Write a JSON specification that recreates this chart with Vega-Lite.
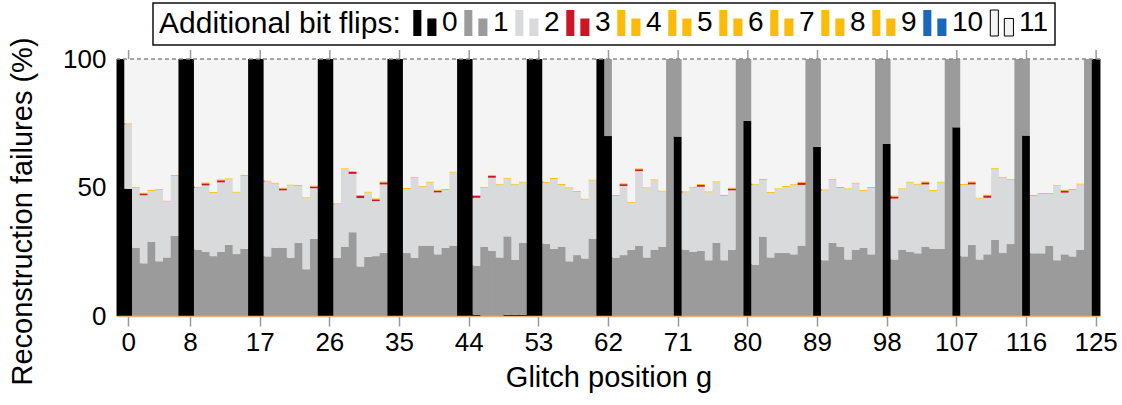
{
  "$schema": "https://vega.github.io/schema/vega-lite/v6.json",
  "width": 983,
  "height": 257,
  "autosize": "none",
  "padding": {"left": 117, "top": 59, "right": 22, "bottom": 89},
  "background": "white",
  "config": {"view": {"stroke": null}, "font": "Liberation Sans"},
  "data": {"values": [
    {"pos":-1,"a":100},
    {"pos":0,"a":49.5,"c":25.1,"e":0.4,"l":25},
    {"pos":1,"b":26.5,"c":23.4,"e":0.4,"l":49.7},
    {"pos":2,"b":20.5,"c":26.5,"d":0.7,"e":0.4,"l":51.9},
    {"pos":3,"b":28.9,"c":19.7,"e":0.4,"l":51.0},
    {"pos":4,"b":21.3,"c":27.8,"e":0.4,"l":50.5},
    {"pos":5,"b":22.8,"c":21.7,"e":0.4,"l":55.1},
    {"pos":6,"b":31.2,"c":23.3,"e":0.4,"l":45.1},
    {"pos":7,"a":100},
    {"pos":8,"a":100},
    {"pos":9,"b":25.8,"c":24.1,"e":0.4,"l":49.7},
    {"pos":10,"b":25.0,"c":25.8,"d":0.8,"e":0.4,"l":48.0},
    {"pos":11,"b":23.3,"c":24.6,"e":0.4,"l":51.7},
    {"pos":12,"b":24.9,"c":27.1,"d":0.8,"e":0.4,"l":46.8},
    {"pos":13,"b":27.7,"c":25.5,"e":0.4,"l":46.4},
    {"pos":14,"b":24.1,"c":23.9,"e":0.4,"l":51.6},
    {"pos":15,"b":26.2,"c":28.3,"e":0.4,"l":45.1},
    {"pos":16,"a":100},
    {"pos":17,"a":100},
    {"pos":18,"b":23.2,"c":29.1,"e":0.4,"l":47.3},
    {"pos":19,"b":26.6,"c":24.9,"e":0.4,"l":48.1},
    {"pos":20,"b":26.6,"c":22.3,"d":0.7,"e":0.4,"l":50.0},
    {"pos":21,"b":22.7,"c":28.1,"e":0.4,"l":48.8},
    {"pos":22,"b":28.5,"c":22.1,"e":0.4,"l":49.0},
    {"pos":23,"b":18.2,"c":27.6,"e":0.4,"l":53.8},
    {"pos":24,"b":30.0,"c":19.7,"d":0.7,"e":0.4,"l":49.2},
    {"pos":25,"a":100},
    {"pos":26,"a":100},
    {"pos":27,"b":22.6,"c":20.9,"e":0.4,"l":56.1},
    {"pos":28,"b":27.0,"c":30.1,"e":0.4,"l":42.5},
    {"pos":29,"b":32.6,"c":22.7,"d":0.8,"e":0.4,"l":43.5},
    {"pos":30,"b":19.3,"c":26.6,"d":0.8,"e":0.4,"l":52.9},
    {"pos":31,"b":23.0,"c":25.0,"e":0.4,"l":51.6},
    {"pos":32,"b":23.3,"c":21.4,"d":0.7,"e":0.4,"l":54.2},
    {"pos":33,"b":24.5,"c":26.7,"d":0.8,"e":0.4,"l":47.6},
    {"pos":34,"a":100},
    {"pos":35,"a":100},
    {"pos":36,"b":24.5,"c":24.9,"e":0.4,"l":50.2},
    {"pos":37,"b":22.6,"c":31.2,"e":0.4,"l":45.8},
    {"pos":38,"b":27.4,"c":22.9,"e":0.4,"l":49.3},
    {"pos":39,"b":27.4,"c":24.5,"e":0.4,"l":47.7},
    {"pos":40,"b":24.0,"c":24.1,"d":0.7,"e":0.4,"l":50.8},
    {"pos":41,"b":26.5,"c":22.5,"e":0.4,"l":50.6},
    {"pos":42,"b":27.4,"c":28.4,"e":0.4,"l":43.8},
    {"pos":43,"a":100},
    {"pos":44,"a":100},
    {"pos":45,"a":0.5,"b":19.1,"c":26.4,"d":0.7,"e":0.4,"l":52.9},
    {"pos":46,"b":27.0,"c":22.9,"e":0.4,"l":49.7},
    {"pos":47,"b":25.4,"c":28.4,"d":0.7,"e":0.4,"l":45.1},
    {"pos":48,"b":22.8,"c":28.3,"e":0.4,"l":48.5},
    {"pos":49,"a":0.5,"b":30.5,"c":22.4,"e":0.4,"l":46.2},
    {"pos":50,"a":0.5,"b":21.3,"c":29.3,"e":0.4,"l":48.5},
    {"pos":51,"a":0.5,"b":28.0,"c":23.4,"e":0.4,"l":47.7},
    {"pos":52,"a":100},
    {"pos":53,"a":100},
    {"pos":54,"b":28.1,"c":23.7,"e":0.4,"l":47.8},
    {"pos":55,"b":26.1,"c":27.2,"e":0.4,"l":46.3},
    {"pos":56,"b":27.0,"c":24.0,"e":0.4,"l":48.6},
    {"pos":57,"b":21.3,"c":28.4,"e":0.4,"l":49.9},
    {"pos":58,"b":23.7,"c":24.5,"e":0.4,"l":51.4},
    {"pos":59,"b":22.4,"c":22.9,"e":0.4,"l":54.3},
    {"pos":60,"b":30.1,"c":22.6,"e":0.4,"l":46.9},
    {"pos":61,"a":100},
    {"pos":62,"a":70,"b":30},
    {"pos":63,"b":22.7,"c":24.0,"e":0.4,"l":52.9},
    {"pos":64,"b":23.7,"c":26.9,"d":0.7,"e":0.4,"l":48.3},
    {"pos":65,"b":25.8,"c":18.3,"e":0.4,"l":55.5},
    {"pos":66,"b":27.4,"c":29.0,"d":0.7,"e":0.4,"l":42.5},
    {"pos":67,"b":22.8,"c":26.9,"e":0.4,"l":49.9},
    {"pos":68,"b":25.7,"c":27.1,"e":0.4,"l":46.8},
    {"pos":69,"b":27.0,"c":21.4,"e":0.4,"l":51.2},
    {"pos":70,"b":100},
    {"pos":71,"a":69.8,"b":30.2},
    {"pos":72,"b":25.8,"c":22.3,"e":0.4,"l":51.5},
    {"pos":73,"b":24.9,"c":25.0,"e":0.4,"l":49.7},
    {"pos":74,"b":25.4,"c":24.9,"d":0.7,"e":0.4,"l":48.6},
    {"pos":75,"b":21.7,"c":26.4,"e":0.4,"l":51.5},
    {"pos":76,"b":28.5,"c":23.5,"e":0.4,"l":47.6},
    {"pos":77,"b":21.7,"c":25.0,"e":0.4,"l":52.9},
    {"pos":78,"b":25.8,"c":23.1,"d":0.7,"e":0.4,"l":50.0},
    {"pos":79,"b":100},
    {"pos":80,"a":75.9,"b":24.1},
    {"pos":81,"b":20.0,"c":31.1,"e":0.4,"l":48.5},
    {"pos":82,"b":30.9,"c":22.0,"e":0.4,"l":46.7},
    {"pos":83,"b":22.8,"c":25.1,"e":0.4,"l":51.7},
    {"pos":84,"b":24.5,"c":24.8,"e":0.4,"l":50.3},
    {"pos":85,"b":24.5,"c":25.7,"e":0.4,"l":49.4},
    {"pos":86,"b":24.0,"c":27.1,"e":0.4,"l":48.5},
    {"pos":87,"b":27.4,"c":23.6,"d":0.9,"e":0.4,"l":47.7},
    {"pos":88,"b":100},
    {"pos":89,"a":65.9,"b":34.1},
    {"pos":90,"b":21.7,"c":27.2,"e":0.4,"l":50.7},
    {"pos":91,"b":28.5,"c":24.5,"e":0.4,"l":46.6},
    {"pos":92,"b":27.0,"c":22.8,"e":0.4,"l":49.8},
    {"pos":93,"b":22.0,"c":27.3,"e":0.4,"l":50.3},
    {"pos":94,"b":25.8,"c":25.7,"e":0.4,"l":48.1},
    {"pos":95,"b":26.5,"c":22.1,"e":0.4,"l":51.0},
    {"pos":96,"b":24.0,"c":25.8,"e":0.4,"l":49.8},
    {"pos":97,"b":100},
    {"pos":98,"a":66.9,"b":33.1},
    {"pos":99,"b":22.0,"c":23.7,"d":0.8,"e":0.4,"l":53.1},
    {"pos":100,"b":25.7,"c":23.6,"e":0.4,"l":50.3},
    {"pos":101,"b":24.9,"c":27.0,"e":0.4,"l":47.7},
    {"pos":102,"b":24.4,"c":26.7,"e":0.4,"l":48.5},
    {"pos":103,"b":27.0,"c":24.2,"d":0.8,"e":0.4,"l":47.6},
    {"pos":104,"b":26.2,"c":22.4,"e":0.4,"l":51.0},
    {"pos":105,"b":26.2,"c":25.7,"e":0.4,"l":47.7},
    {"pos":106,"b":100},
    {"pos":107,"a":73.4,"b":26.6},
    {"pos":108,"b":23.2,"c":27.8,"e":0.4,"l":48.6},
    {"pos":109,"b":27.7,"c":23.5,"d":0.8,"e":0.4,"l":47.6},
    {"pos":110,"b":22.0,"c":23.7,"e":0.4,"l":53.9},
    {"pos":111,"b":24.0,"c":22.0,"d":0.9,"e":0.4,"l":52.7},
    {"pos":112,"b":29.7,"c":27.6,"e":0.4,"l":42.3},
    {"pos":113,"b":24.5,"c":29.3,"e":0.4,"l":45.8},
    {"pos":114,"b":28.0,"c":25.0,"e":0.4,"l":46.6},
    {"pos":115,"b":100},
    {"pos":116,"a":70.2,"b":29.8},
    {"pos":117,"b":24.4,"c":22.3,"e":0.4,"l":52.9},
    {"pos":118,"b":24.4,"c":23.1,"e":0.4,"l":52.1},
    {"pos":119,"b":27.4,"c":20.1,"e":0.4,"l":52.1},
    {"pos":120,"b":21.7,"c":29.0,"e":0.4,"l":48.9},
    {"pos":121,"b":24.0,"c":24.0,"d":0.8,"e":0.4,"l":50.8},
    {"pos":122,"b":23.2,"c":25.8,"e":0.4,"l":50.6},
    {"pos":123,"b":25.7,"c":25.5,"e":0.4,"l":48.4},
    {"pos":124,"b":100},
    {"pos":125,"a":100}
  ]},
  "layer": [
    {
      "transform": [
        {"fold": ["a","b","c","d","e","f","g","h","i","j","k","l"], "as": ["cat","v"]},
        {"filter": "isValid(datum.v)"}
      ],
      "mark": {"type": "bar", "width": {"band": 1.12}},
      "encoding": {
        "x": {
          "field": "pos", "type": "ordinal",
          "scale": {"paddingInner": 0, "paddingOuter": 0},
          "axis": {
            "values": [0,8,17,26,35,44,53,62,71,80,89,98,107,116,125],
            "labelAngle": 0, "labelFontSize": 26, "labelColor": "black",
            "tickColor": "#9a9a9a", "tickSize": 10, "tickWidth": 1.5,
            "domainColor": "#e6b47c", "domainWidth": 1.5,
            "labelPadding": 3, "title": "Glitch position g",
            "titleFontSize": 29, "titleFontWeight": "normal", "titleColor": "black",
            "titlePadding": 8, "zindex": 1
          }
        },
        "y": {
          "field": "v", "type": "quantitative", "stack": "zero",
          "scale": {"domain": [0, 100], "nice": false},
          "axis": {
            "values": [0, 50, 100], "labelFontSize": 26, "labelColor": "black",
            "ticks": false, "labelPadding": 11, "domainColor": "#444444",
            "grid": false, "title": "Reconstruction failures (%)",
            "titleFontSize": 29, "titleFontWeight": "normal", "titleColor": "black",
            "titlePadding": 25, "titleY": 152
          }
        },
        "color": {
          "field": "cat", "type": "nominal",
          "scale": {
            "domain": ["a","b","c","d","e","f","g","h","i","j","k","l"],
            "range": ["#000000","#9b9b9b","#d9dadc","#cc1526","#fbbc09","#fbbc09","#fbbc09","#fbbc09","#fbbc09","#fbbc09","#1a68bd","#f4f4f4"]
          },
          "legend": {
            "title": "Additional bit flips:",
            "orient": "none", "legendX": 36, "legendY": -56,
            "direction": "horizontal", "titleOrient": "left",
            "titleFontSize": 30, "titleFontWeight": "normal", "titleColor": "black",
            "titlePadding": 10, "titleLimit": 500,
            "labelFontSize": 28, "labelColor": "black", "labelOffset": 3,
            "labelExpr": "'' + indexof('abcdefghijkl', datum.label)",
            "symbolType": "M-0.9,-1H-0.28V1H-0.9Z M0.18,-0.35H0.88V1H0.18Z",
            "symbolSize": 676, "symbolOpacity": 1,
            "columnPadding": 4, "padding": 6,
            "strokeColor": "#111111",
            "encode": {
              "symbols": {"update": {
                "stroke": {"signal": "datum.value === 'l' ? '#000000' : 'transparent'"},
                "strokeWidth": {"value": 1}
              }},
              "legend": {"update": {"strokeWidth": {"value": 1.5}}}
            }
          }
        },
        "order": {"field": "cat", "sort": "ascending"}
      }
    },
    {
      "transform": [
        {"filter": "indexof([0,8,17,26,35,44,53,62,71,80,89,98,107,116,125], datum.pos) >= 0"}
      ],
      "mark": {"type": "rule", "color": "#9a9a9a", "strokeWidth": 1.5, "clip": false},
      "encoding": {
        "x": {"field": "pos", "type": "ordinal"},
        "y": {"datum": 100},
        "y2": {"datum": 103.5}
      }
    },
    {
      "data": {"values": [{}]},
      "mark": {"type": "rule", "strokeDash": [4, 3], "color": "#8a8a8a", "strokeWidth": 1.3},
      "encoding": {"y": {"datum": 100}}
    }
  ]
}
